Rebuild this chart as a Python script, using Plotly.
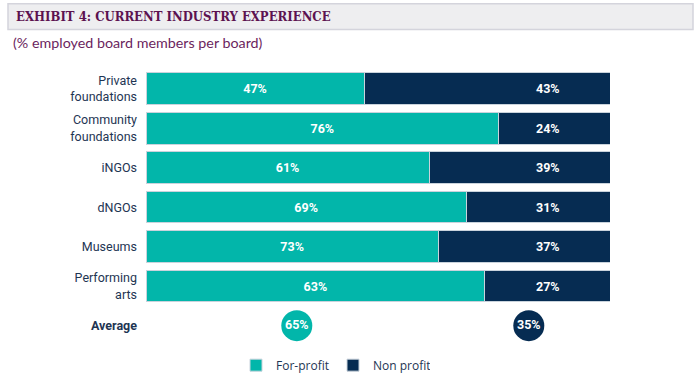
import plotly.graph_objects as go

# ---- data ----
categories = ["Private<br>foundations", "Community<br>foundations", "iNGOs", "dNGOs",
              "Museums", "Performing<br>arts"]
avg_label = "<b>Average</b>"
for_profit_bar = [47, 76, 61, 69, 63, 73]      # bar lengths as drawn
non_profit_bar = [53, 24, 39, 31, 37, 27]
for_profit_labels = ["47%", "76%", "61%", "69%", "73%", "63%"]   # printed labels
non_profit_labels = ["43%", "24%", "39%", "31%", "37%", "27%"]
avg_for_profit = 65
avg_non_profit = 35

# ---- styles ----
TEAL = "#02b6aa"
NAVY = "#062c52"
PURPLE = "#5c1250"
LABEL = "#1e3553"
NAVY_LABEL_COL = 86.6   # text column for non-profit labels (axis units)

# plot area spans down to the bottom edge so the legend sits inside it
L, R, T, B = 146, 90, 69, 0
W, H = 700, 380
PW, PH = W - L - R, H - T - B
ROW_PX = 40
Y_BOTTOM = (H - B - (T + ROW_PX / 2)) / ROW_PX   # category units at bottom edge


def px(xp):
    return (xp - L) / PW


def py(yp):
    return (H - B - yp) / PH


fig = go.Figure()
fig.add_trace(go.Bar(
    y=categories, x=for_profit_bar, orientation="h", name="For-profit",
    marker=dict(color=TEAL, line=dict(color="#c9d3dc", width=1)),
    text=for_profit_labels, textposition="inside", insidetextanchor="middle",
    textfont=dict(family="Roboto", size=12.5, color="white", weight="bold"),
    hoverinfo="skip", width=0.8,
))
fig.add_trace(go.Bar(
    y=categories, x=non_profit_bar, orientation="h", name="Non profit",
    marker=dict(color=NAVY, line=dict(color="#c9d3dc", width=1)),
    hoverinfo="skip", width=0.8,
))
# Average badges
fig.add_trace(go.Scatter(
    y=[avg_label, avg_label],
    x=[avg_for_profit / 2, avg_for_profit + avg_non_profit / 2],
    mode="markers+text",
    marker=dict(size=31, color=[TEAL, NAVY]),
    text=[f"{avg_for_profit}%", f"{avg_non_profit}%"],
    textposition="middle center",
    textfont=dict(family="Roboto", size=12.5, color="white", weight="bold"),
    showlegend=False, hoverinfo="skip", cliponaxis=False,
))

annotations = []
for cat, lab in zip(categories, non_profit_labels):
    annotations.append(dict(x=NAVY_LABEL_COL, y=cat, xref="x", yref="y", text=f"<b>{lab}</b>",
                            showarrow=False, font=dict(family="Roboto", size=12.5, color="white")))
annotations.append(dict(x=px(14), y=py(16), xref="paper", yref="paper",
                        text="<b>EXHIBIT 4: CURRENT INDUSTRY EXPERIENCE</b>",
                        xanchor="left", yanchor="middle", showarrow=False,
                        font=dict(family="DejaVu Serif Condensed, Liberation Serif", size=13,
                                  color=PURPLE)))
annotations.append(dict(x=px(11), y=py(42), xref="paper", yref="paper",
                        text="(% employed board members per board)",
                        xanchor="left", yanchor="middle", showarrow=False,
                        font=dict(family="Lato", size=14.3, color="#6b1f5e")))

fig.update_layout(
    width=W, height=H, margin=dict(l=L, r=R, t=T, b=B),
    paper_bgcolor="white", plot_bgcolor="white",
    barmode="stack",
    xaxis=dict(range=[0, 100], visible=False, fixedrange=True),
    yaxis=dict(type="category", categoryarray=categories + [avg_label],
               range=[Y_BOTTOM, -0.5], showgrid=False, zeroline=False, showline=False,
               ticks="", ticklabelstandoff=8, fixedrange=True,
               tickfont=dict(family="Roboto", size=12.5, color=LABEL)),
    legend=dict(orientation="h", x=px(236), xanchor="left",
                y=py(369), yanchor="middle",
                font=dict(family="Open Sans", size=12, color=LABEL), traceorder="normal",
                entrywidth=52, bgcolor="rgba(0,0,0,0)"),
    shapes=[dict(type="rect", xref="paper", yref="paper",
                 x0=px(8), x1=px(693), y0=py(29), y1=py(3),
                 fillcolor="#eeeef0", line=dict(color="#d4d4dc", width=1.5), layer="below")],
    annotations=annotations,
    showlegend=True,
)

fig.write_html("out.html", config={"displayModeBar": False},
               post_script="document.body.style.margin='0';")
